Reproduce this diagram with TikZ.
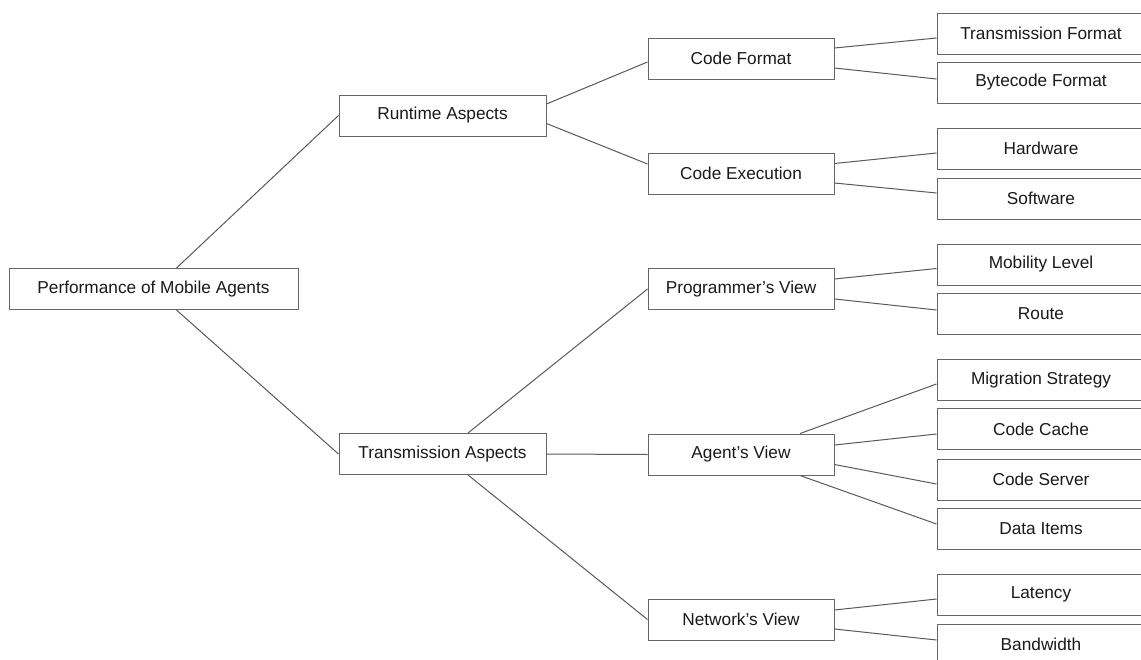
\documentclass[tikz,border=0pt]{standalone}
\usepackage{fontspec}
\setmainfont{Liberation Sans}
\definecolor{edgegray}{HTML}{5A5A5A}
\definecolor{boxgray}{HTML}{666666}
\definecolor{inkdark}{HTML}{1A1A1A}
\tikzset{
  box/.style={draw=boxgray, line width=1pt, fill=white, text=inkdark,
    inner sep=0pt, minimum height=41pt,
    font=\fontsize{17.25}{20}\selectfont},
  rootbox/.style={box, minimum width=289pt},
  midbox/.style={box, minimum width=207pt},
  subbox/.style={box, minimum width=186pt},
  leafbox/.style={box, minimum width=208pt},
  link/.style={draw=edgegray, line width=1pt}
}
\begin{document}
\begin{tikzpicture}[x=1pt, y=-1pt]
\clip (0,0) rectangle (1141,659);
\fill[white] (0,0) rectangle (1141,659);

% level 0 and 1
\node[rootbox] (root) at (153.5,289) {Performance of Mobile Agents};
\node[midbox] (ra) at (442.5,115.5) {Runtime Aspects};
\node[midbox] (ta) at (442.5,454) {Transmission Aspects};

% level 2
\node[subbox] (cf) at (741,58.5) {Code Format};
\node[subbox] (ce) at (741,173.5) {Code Execution};
\node[subbox] (pv) at (741,289) {Programmer's View};
\node[subbox] (av) at (741,454.5) {Agent's View};
\node[subbox] (nv) at (741,619.5) {Network's View};

% level 3
\node[leafbox] (tf) at (1041,33.5) {Transmission Format};
\node[leafbox] (bf) at (1041,82.5) {Bytecode Format};
\node[leafbox] (hw) at (1041,148.5) {Hardware};
\node[leafbox] (sw) at (1041,198.5) {Software};
\node[leafbox] (ml) at (1041,264.5) {Mobility Level};
\node[leafbox] (ro) at (1041,314) {Route};
\node[leafbox] (ms) at (1041,380) {Migration Strategy};
\node[leafbox] (cc) at (1041,429) {Code Cache};
\node[leafbox] (cs) at (1041,479.5) {Code Server};
\node[leafbox] (di) at (1041,528.5) {Data Items};
\node[leafbox] (la) at (1041,594.5) {Latency};
\node[leafbox] (bw) at (1041,644.5) {Bandwidth};

% root to the two aspects
\draw[link] ([xshift=23pt]root.north) -- (ra.west);
\draw[link] ([xshift=23pt]root.south) -- (ta.west);

% runtime aspects
\draw[link] ([yshift=11.5pt]ra.east) -- ([yshift=-3.5pt]cf.west);
\draw[link] ([yshift=-8pt]ra.east) -- ([yshift=9.5pt]ce.west);

% transmission aspects
\draw[link] ([xshift=25.5pt]ta.north) -- (pv.west);
\draw[link] (ta.east) -- (av.west);
\draw[link] ([xshift=25.5pt]ta.south) -- (nv.west);

% code format
\draw[link] ([yshift=10.5pt]cf.east) -- ([yshift=-4.5pt]tf.west);
\draw[link] ([yshift=-9.5pt]cf.east) -- ([yshift=3.5pt]bf.west);

% code execution
\draw[link] ([yshift=10pt]ce.east) -- ([yshift=-4.5pt]hw.west);
\draw[link] ([yshift=-9.5pt]ce.east) -- ([yshift=5.5pt]sw.west);

% programmer's view
\draw[link] ([yshift=10pt]pv.east) -- ([yshift=-4pt]ml.west);
\draw[link] ([yshift=-10pt]pv.east) -- ([yshift=4pt]ro.west);

% agent's view
\draw[link] ([xshift=59pt]av.north) -- ([yshift=-4pt]ms.west);
\draw[link] ([yshift=9.5pt]av.east) -- ([yshift=-5pt]cc.west);
\draw[link] ([yshift=-10pt]av.east) -- ([yshift=-4.5pt]cs.west);
\draw[link] ([xshift=59pt]av.south) -- ([yshift=4.5pt]di.west);

% network's view
\draw[link] ([yshift=9.5pt]nv.east) -- ([yshift=-4.5pt]la.west);
\draw[link] ([yshift=-9.5pt]nv.east) -- ([yshift=4.5pt]bw.west);
\end{tikzpicture}
\end{document}
